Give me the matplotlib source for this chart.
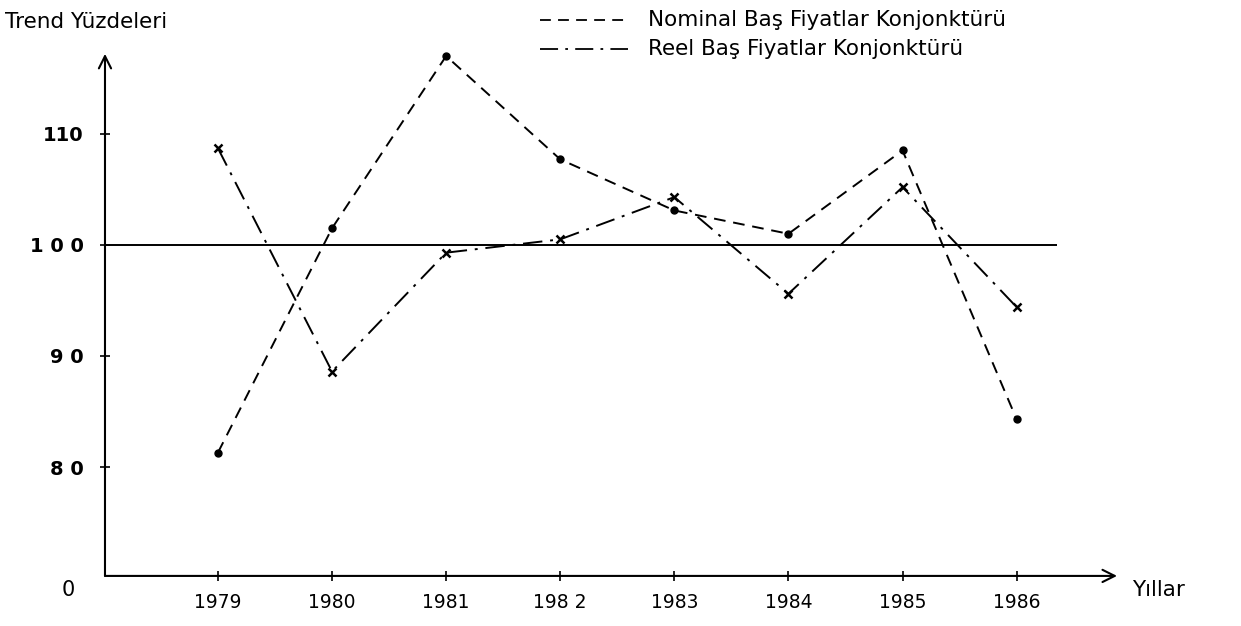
import matplotlib
matplotlib.use("Agg")
import matplotlib.pyplot as plt
from matplotlib.lines import Line2D

# Data
years = [1979, 1980, 1981, 1982, 1983, 1984, 1985, 1986]
nominal = [81.3, 101.5, 117.0, 107.7, 103.1, 101.0, 108.5, 84.3]
reel = [108.7, 88.6, 99.3, 100.5, 104.3, 95.6, 105.2, 94.4]
y_ticks = [80, 90, 100, 110]
y_tick_labels = ["8 0", "9 0", "1 0 0", "110"]
x_tick_labels = ["1979", "1980", "1981", "198 2", "1983", "1984", "1985", "1986"]
nominal_label = "Nominal Baş Fiyatlar Konjonktürü"
reel_label = "Reel Baş Fiyatlar Konjonktürü"


def main():

    plt.rcParams["font.family"] = ["DejaVu Sans"]

    fig = plt.figure(figsize=(12.41, 6.26), dpi=100)
    ax = fig.add_axes([0.0846, 0.080, 0.8155, 0.834])

    ax.set_xlim(1978.01, 1986.88)
    ax.set_ylim(70.2, 117.2)

    # Reference line at 100
    ax.hlines(100, 1978.01, 1986.35, color="black", linewidth=1.4)

    # Series
    ax.plot(years, nominal, color="black", linestyle=(0, (6, 4)),
            linewidth=1.4, marker="o", markersize=5, clip_on=False)
    ax.plot(years, reel, color="black", linestyle=(0, (10, 4, 1.5, 4)),
            linewidth=1.4, marker="x", markersize=6, markeredgewidth=1.8,
            clip_on=False)

    # Axes as arrows
    for side in ["top", "right", "left", "bottom"]:
        ax.spines[side].set_visible(False)
    ax.annotate("", xy=(1, 0), xycoords="axes fraction", xytext=(0, 0),
                arrowprops=dict(arrowstyle="->", color="black", lw=1.5,
                                mutation_scale=22, shrinkA=0, shrinkB=0))
    ax.annotate("", xy=(0, 1), xycoords="axes fraction", xytext=(0, 0),
                arrowprops=dict(arrowstyle="->", color="black", lw=1.5,
                                mutation_scale=22, shrinkA=0, shrinkB=0))

    # Ticks
    ax.set_xticks(years)
    ax.set_xticklabels(x_tick_labels, fontsize=13.5)
    ax.set_yticks(y_ticks)
    ax.set_yticklabels(y_tick_labels, fontsize=14, fontweight="bold")
    ax.tick_params(axis="both", direction="inout", length=7, width=1.2)
    ax.tick_params(axis="x", pad=9)
    ax.tick_params(axis="y", pad=12)

    # Texts
    fig.text(0.055, 0.057, "0", fontsize=15, ha="center", va="center")
    fig.text(0.912, 0.057, "Yıllar", fontsize=15.5, ha="left", va="center")
    fig.text(0.004, 0.965, "Trend Yüzdeleri", fontsize=15.5, ha="left",
             va="center")

    # Legend drawn by hand
    fig.add_artist(Line2D([0.435, 0.506], [0.968, 0.968], color="black",
                          linestyle=(0, (6, 4)), linewidth=1.3))
    fig.add_artist(Line2D([0.435, 0.506], [0.922, 0.922], color="black",
                          linestyle=(0, (10, 4, 1.5, 4)), linewidth=1.3))
    fig.text(0.522, 0.968, nominal_label, fontsize=15.5, ha="left",
             va="center")
    fig.text(0.522, 0.922, reel_label, fontsize=15.5, ha="left", va="center")

    fig.savefig("out.png", dpi=100, facecolor="white")


if __name__ == "__main__":

    main()
